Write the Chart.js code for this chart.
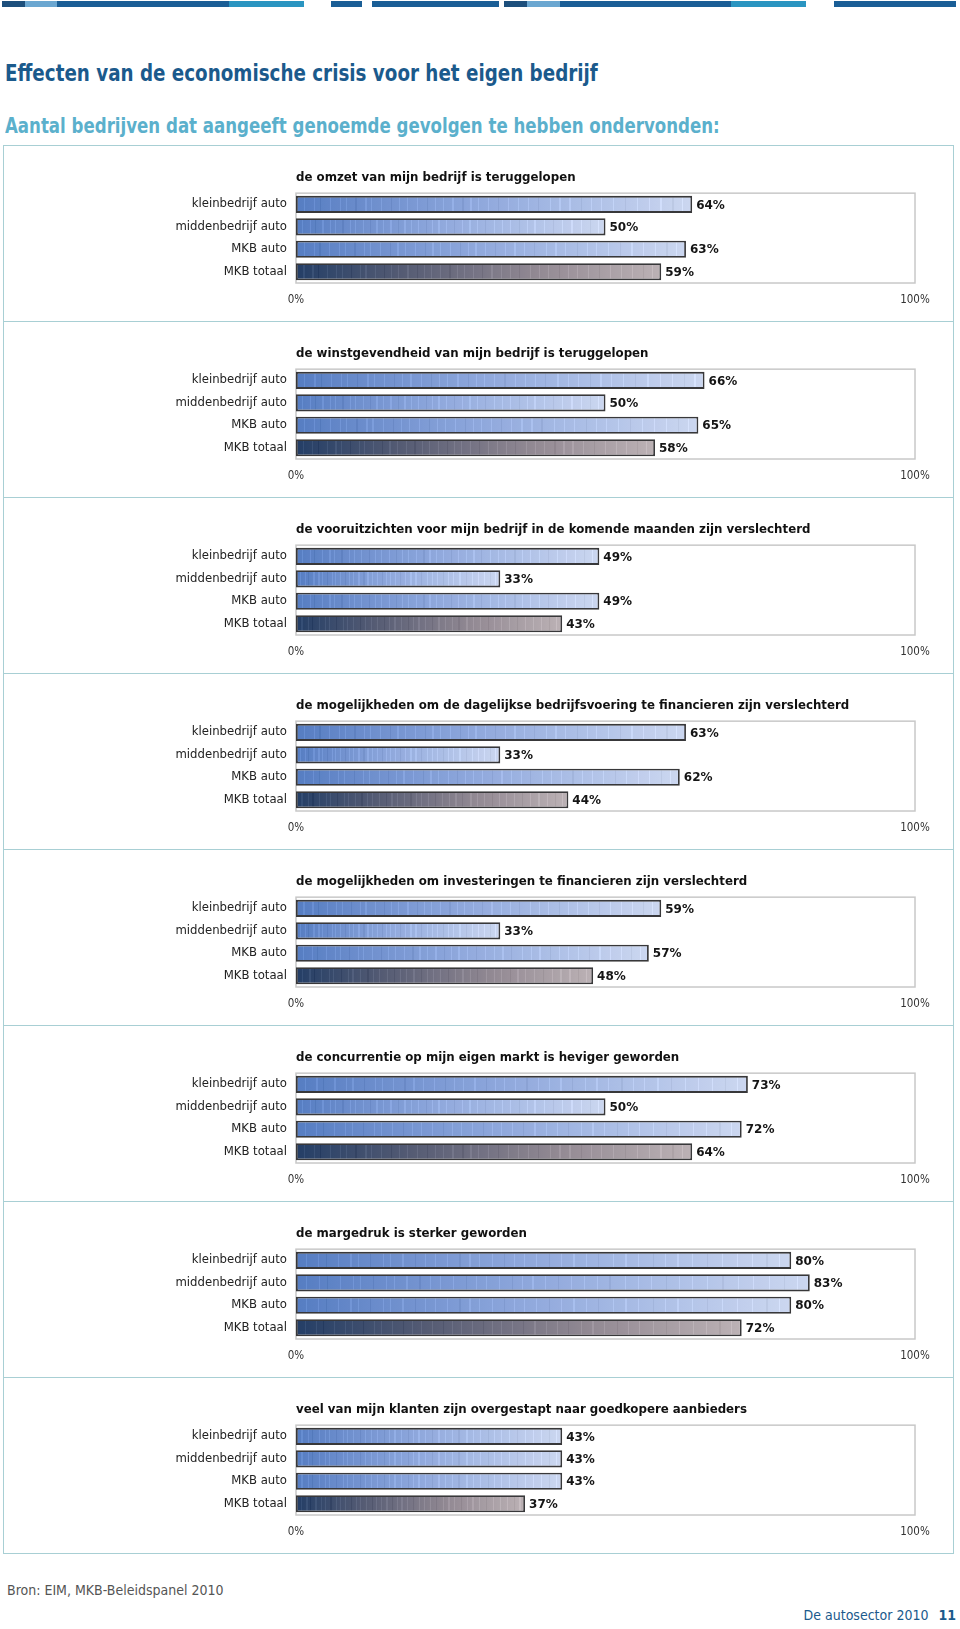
<!DOCTYPE html>
<html>
<head>
<meta charset="utf-8">
<script src="https://cdn.jsdelivr.net/npm/chart.js@4.4.1/dist/chart.umd.min.js"></script>
<style>
  html, body { margin:0; padding:0; background:#fff; }
  body { width:960px; height:1629px; position:relative; overflow:hidden; }
  .bar { position:absolute; top:1px; height:6px; }
  .hline { position:absolute; left:3px; width:951px; height:1px; background:#a8cfd4; }
  .vline { position:absolute; top:145px; width:1px; height:1409px; background:#a8cfd4; }
  canvas { position:absolute; left:0; }
  #h1 { position:absolute; left:5px; top:60px; font-family:"DejaVu Sans Condensed",sans-serif; font-weight:bold; font-size:23px; color:#1b5a8c; white-space:nowrap; transform:scaleX(0.885); transform-origin:0 0; }
  #h2 { position:absolute; left:5px; top:113px; font-family:"DejaVu Sans Condensed",sans-serif; font-weight:bold; font-size:22px; color:#5bb0cc; white-space:nowrap; transform:scaleX(0.84); transform-origin:0 0; }
  #src { position:absolute; left:7px; top:1582px; font-family:"DejaVu Sans Condensed",sans-serif; font-size:14px; color:#555; white-space:nowrap; }
  #pg { position:absolute; right:4px; top:1607px; font-family:"DejaVu Sans Condensed",sans-serif; font-size:14px; color:#1b5a8c; white-space:nowrap; }
  #pg b { margin-left:10px; }
</style>
</head>
<body>
<div class="bar" style="left:2px;width:23px;background:#1d4f7c"></div>
<div class="bar" style="left:25px;width:32px;background:#6ba7d1"></div>
<div class="bar" style="left:57px;width:172px;background:#1a5e96"></div>
<div class="bar" style="left:229px;width:75px;background:#2a95c1"></div>
<div class="bar" style="left:331px;width:31px;background:#1a5e96"></div>
<div class="bar" style="left:372px;width:127px;background:#1a5e96"></div>
<div class="bar" style="left:504px;width:23px;background:#1d4f7c"></div>
<div class="bar" style="left:527px;width:33px;background:#6ba7d1"></div>
<div class="bar" style="left:560px;width:171px;background:#1a5e96"></div>
<div class="bar" style="left:731px;width:75px;background:#2a95c1"></div>
<div class="bar" style="left:834px;width:122px;background:#1a5e96"></div>

<div id="h1">Effecten van de economische crisis voor het eigen bedrijf</div>
<div id="h2">Aantal bedrijven dat aangeeft genoemde gevolgen te hebben ondervonden:</div>

<div class="vline" style="left:3px"></div>
<div class="vline" style="left:953px"></div>

<div id="src">Bron: EIM, MKB-Beleidspanel 2010</div>
<div id="pg">De autosector 2010<b>11</b></div>

<script>
// ---- data ----
const categories = ["kleinbedrijf auto", "middenbedrijf auto", "MKB auto", "MKB totaal"];
const panelTitles = [
  "de omzet van mijn bedrijf is teruggelopen",
  "de winstgevendheid van mijn bedrijf is teruggelopen",
  "de vooruitzichten voor mijn bedrijf in de komende maanden zijn verslechterd",
  "de mogelijkheden om de dagelijkse bedrijfsvoering te financieren zijn verslechterd",
  "de mogelijkheden om investeringen te financieren zijn verslechterd",
  "de concurrentie op mijn eigen markt is heviger geworden",
  "de margedruk is sterker geworden",
  "veel van mijn klanten zijn overgestapt naar goedkopere aanbieders"
];
const omzet           = [64, 50, 63, 59];
const winstgevendheid = [66, 50, 65, 58];
const vooruitzichten  = [49, 33, 49, 43];
const dagelijks       = [63, 33, 62, 44];
const investeringen   = [59, 33, 57, 48];
const concurrentie    = [73, 50, 72, 64];
const margedruk       = [80, 83, 80, 72];
const klanten         = [43, 43, 43, 37];
const xTickValues = [0, 100];

const panelData = [omzet, winstgevendheid, vooruitzichten, dagelijks, investeringen, concurrentie, margedruk, klanten];

// ---- layout ----
const PANEL_TOP = 145, PANEL_H = 176;
for (let i = 0; i <= panelData.length; i++) {
  const d = document.createElement('div');
  d.className = 'hline';
  d.style.top = (PANEL_TOP + PANEL_H * i) + 'px';
  document.body.appendChild(d);
}

const blueStops = [[0,[86,125,194]],[0.45,[142,167,220]],[1,[204,215,240]]];
const grayStops = [[0,[36,62,102]],[0.3,[86,92,116]],[0.65,[145,136,146]],[1,[188,178,181]]];
// stripe texture positions (fractions of bar length) — decorative only
const stripes = [0.02,0.045,0.06,0.085,0.11,0.125,0.15,0.175,0.19,0.215,0.24,0.26,0.28,0.305,0.33,0.35,0.37,0.395,0.42,0.44,0.46,0.485,0.51,0.535,0.56,0.585,0.61,0.64,0.665,0.69,0.72,0.745,0.77,0.8,0.83,0.86,0.89,0.92,0.95,0.975];

function baseColor(stops, f) {
  for (let k = 1; k < stops.length; k++) {
    if (f <= stops[k][0]) {
      const a = stops[k-1], b = stops[k];
      const t = (f - a[0]) / (b[0] - a[0]);
      return a[1].map((v, j) => Math.round(v + (b[1][j] - v) * t));
    }
  }
  return stops[stops.length-1][1];
}
function rgb(c, d) { return 'rgb(' + c.map(v => Math.max(0, Math.min(255, v + d))).join(',') + ')'; }

function barFill(c) {
  const chart = c.chart;
  if (!chart.chartArea) return '#8fa8d8';
  const sx = chart.scales.x;
  const x0 = sx.getPixelForValue(0), x1 = sx.getPixelForValue(c.raw);
  const len = Math.max(1, x1 - x0);
  const stops = c.dataIndex === 3 ? grayStops : blueStops;
  const g = chart.ctx.createLinearGradient(x0, 0, x1, 0);
  g.addColorStop(0, rgb(baseColor(stops, 0), 0));
  const w = 1.2 / len;
  stripes.forEach((f, k) => {
    const col = baseColor(stops, f);
    const d = (k % 4 === 2) ? -10 : 14;
    g.addColorStop(f, rgb(col, 0));
    g.addColorStop(f, rgb(col, d));
    g.addColorStop(Math.min(1, f + w), rgb(col, d));
    g.addColorStop(Math.min(1, f + w), rgb(col, 0));
  });
  g.addColorStop(1, rgb(baseColor(stops, 1), 0));
  return g;
}

const plotFrame = {
  id: 'plotFrame',
  beforeDatasetsDraw(chart) {
    const a = chart.chartArea, ctx = chart.ctx;
    ctx.save();
    ctx.strokeStyle = '#c8c8c8';
    ctx.lineWidth = 1.5;
    ctx.strokeRect(a.left, a.top, a.right - a.left, a.bottom - a.top);
    ctx.restore();
  }
};
const valueLabels = {
  id: 'valueLabels',
  afterDatasetsDraw(chart) {
    const ctx = chart.ctx;
    const meta = chart.getDatasetMeta(0);
    const data = chart.data.datasets[0].data;
    ctx.save();
    ctx.font = 'bold 12px "DejaVu Sans", sans-serif';
    ctx.fillStyle = '#151515';
    ctx.textAlign = 'left';
    ctx.textBaseline = 'middle';
    meta.data.forEach((el, i) => {
      ctx.fillText(data[i] + '%', el.x + 4, el.y + 1);
    });
    ctx.restore();
  }
};

panelData.forEach((vals, i) => {
  const cv = document.createElement('canvas');
  cv.width = 960; cv.height = PANEL_H;
  cv.style.top = (PANEL_TOP + PANEL_H * i) + 'px';
  document.body.appendChild(cv);
  new Chart(cv, {
    type: 'bar',
    data: {
      labels: categories,
      datasets: [{
        data: vals,
        backgroundColor: barFill,
        borderColor: '#38383a',
        borderWidth: 1.8,
        borderSkipped: false,
        categoryPercentage: 0.76,
        barPercentage: 1
      }]
    },
    options: {
      indexAxis: 'y',
      responsive: false,
      animation: false,
      devicePixelRatio: 1,
      layout: { padding: { left: 0, right: 45, top: 26, bottom: 0 } },
      plugins: {
        legend: { display: false },
        tooltip: { enabled: false },
        title: {
          display: true,
          text: panelTitles[i],
          align: 'start',
          fullSize: false,
          color: '#111',
          font: { family: '"DejaVu Sans", sans-serif', weight: 'bold', size: 11.8, lineHeight: 1.2 },
          padding: { top: 0, bottom: 8 }
        }
      },
      scales: {
        y: {
          type: 'category',
          grid: { display: false, drawTicks: false },
          border: { display: false },
          ticks: { color: '#222', padding: 9, font: { family: '"DejaVu Sans", sans-serif', size: 11.7 } },
          afterFit(s) { s.width = 296; }
        },
        x: {
          min: 0, max: 100,
          grid: { display: false, drawTicks: false },
          border: { display: false },
          afterBuildTicks(s) { s.ticks = xTickValues.map(v => ({ value: v })); },
          ticks: { color: '#333', padding: 10, maxRotation: 0, font: { family: '"DejaVu Sans Condensed", "DejaVu Sans", sans-serif', size: 11.5 }, callback: v => v + '%' },
          afterFit(s) { s.height = 38; }
        }
      }
    },
    plugins: [plotFrame, valueLabels]
  });
});
</script>
</body>
</html>
